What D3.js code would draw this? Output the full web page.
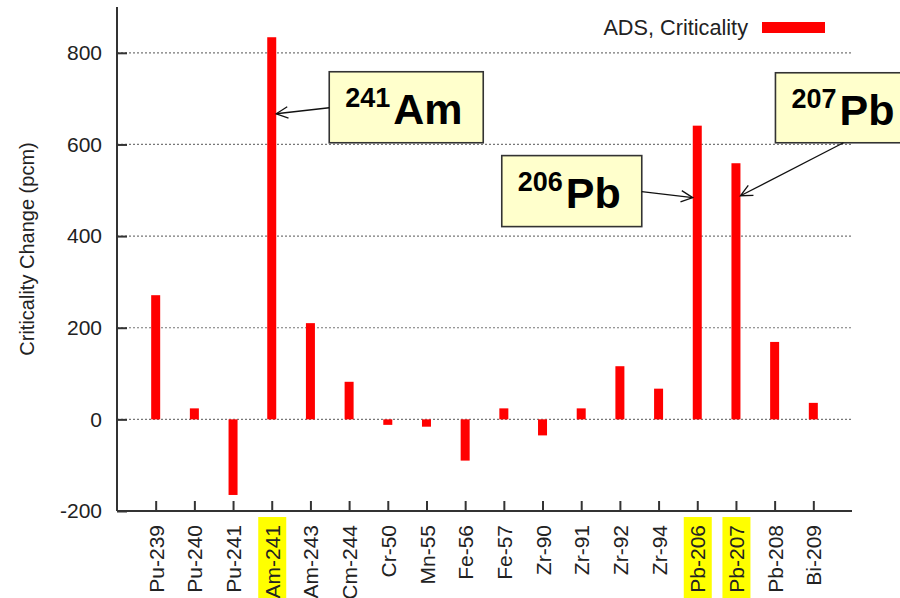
<!DOCTYPE html>
<html>
<head>
<meta charset="utf-8">
<script src="https://cdn.jsdelivr.net/npm/d3@7"></script>
<style>
  html, body { margin: 0; padding: 0; background: #fff; }
  svg { display: block; font-family: "Liberation Sans", Arial, sans-serif; }
</style>
</head>
<body>
<svg id="chart" width="900" height="598"></svg>
<script>
// ---- data ----
const categories = ["Pu-239","Pu-240","Pu-241","Am-241","Am-243","Cm-244","Cr-50","Mn-55","Fe-56","Fe-57","Zr-90","Zr-91","Zr-92","Zr-94","Pb-206","Pb-207","Pb-208","Bi-209"];
const values = [271, 24, -165, 834, 210, 82, -12, -16, -90, 24, -35, 24, 116, 67, 641, 559, 169, 36];
const yTicks = [-200, 0, 200, 400, 600, 800];
const gridTicks = [0, 200, 400, 600, 800];
const highlighted = ["Am-241", "Pb-206", "Pb-207"];
const seriesName = "ADS, Criticality";
const yTitle = "Criticality Change (pcm)";
const annCats = ["Am-241", "Pb-206", "Pb-207"];
const annMass = ["241", "206", "207"];
const annElem = ["Am", "Pb", "Pb"];
const annValues = [667, 484, 488];

// ---- layout ----
(function () {
const svg = d3.select("#chart");
const mLeft = 117, mRight = 852, mTop = 7, mBottom = 511;
const x = d3.scalePoint().domain(categories).range([mLeft, mRight]).padding(1);
const y = d3.scaleLinear().domain([-200, 900]).range([mBottom, mTop]);
const barW = 9;
const axisColor = "#333";
const textColor = "#222";

// grid
svg.append("g").selectAll("line").data(gridTicks).join("line")
  .attr("x1", mLeft).attr("x2", mRight)
  .attr("y1", d => y(d)).attr("y2", d => y(d))
  .attr("stroke", "#777").attr("stroke-width", 1.2)
  .attr("stroke-dasharray", "2,2");

// bars
svg.append("g").selectAll("rect").data(values).join("rect")
  .attr("x", (d, i) => x(categories[i]) - barW / 2)
  .attr("width", barW)
  .attr("y", d => y(Math.max(0, d)))
  .attr("height", d => Math.abs(y(d) - y(0)))
  .attr("fill", "#ff0000");

// y axis
const yAxis = svg.append("g").attr("transform", `translate(${mLeft},0)`)
  .call(d3.axisLeft(y).tickValues(yTicks).tickFormat(d => String(d))
    .tickSize(-10).tickPadding(15).tickSizeOuter(0));
yAxis.select(".domain").attr("stroke", axisColor).attr("stroke-width", 2)
  .attr("d", `M0,${mBottom}V${mTop}`);
yAxis.selectAll(".tick line").attr("stroke", axisColor).attr("stroke-width", 2);
yAxis.selectAll(".tick text").attr("font-size", 21).attr("fill", textColor)
  .attr("font-family", "Liberation Sans, Arial, sans-serif");

// x axis
const xAxis = svg.append("g").attr("transform", `translate(0,${mBottom})`)
  .call(d3.axisBottom(x).tickSize(-10).tickSizeOuter(0));
xAxis.select(".domain").attr("stroke", axisColor).attr("stroke-width", 2)
  .attr("d", `M${mLeft},0H${mRight}`);
xAxis.selectAll(".tick line").attr("stroke", axisColor).attr("stroke-width", 2);
xAxis.selectAll(".tick").each(function(d) {
  if (highlighted.includes(d)) {
    d3.select(this).insert("rect", "text")
      .attr("x", -14).attr("width", 28)
      .attr("y", 6).attr("height", 100)
      .attr("fill", "#ffff00");
  }
});
xAxis.selectAll(".tick text")
  .attr("font-size", 21).attr("fill", textColor)
  .attr("font-family", "Liberation Sans, Arial, sans-serif")
  .attr("transform", "rotate(-90)")
  .attr("text-anchor", "end")
  .attr("x", -14).attr("y", 0).attr("dy", "0.36em");

// y title
svg.append("text")
  .attr("transform", `translate(34,249) rotate(-90)`)
  .attr("text-anchor", "middle")
  .attr("font-size", 20).attr("fill", textColor)
  .text(yTitle);

// legend
svg.append("text").attr("x", 748).attr("y", 35).attr("text-anchor", "end")
  .attr("font-size", 21.7).attr("fill", textColor).text(seriesName);
svg.append("rect").attr("x", 762).attr("y", 22).attr("width", 63).attr("height", 11)
  .attr("fill", "#ff0000");

// annotations: box offsets relative to arrow tip (layout only)
const boxLayout = [
  {tipSide: 1,  dx: 53,   dy: -42,  w: 154, h: 71, from: [0, 36]},
  {tipSide: -1, dx: -191, dy: -42,  w: 140, h: 71, from: [140, 36]},
  {tipSide: 1,  dx: 35,   dy: -123, w: 140, h: 70, from: [68, 70]}
];
const annG = svg.append("g");
annCats.forEach((c, i) => {
  const L = boxLayout[i];
  const tx = x(c) + L.tipSide * barW / 2;
  const ty = y(annValues[i]);
  const bx = tx + L.dx, by = ty + L.dy;
  annG.append("rect").attr("x", bx).attr("y", by).attr("width", L.w).attr("height", L.h)
    .attr("fill", "#ffffcc").attr("stroke", "#333").attr("stroke-width", 1.6);
  const t = annG.append("text").attr("x", bx + 16).attr("y", by + 52)
    .attr("font-weight", "bold").attr("fill", "#000");
  t.append("tspan").attr("font-size", 27).attr("dy", -17).text(annMass[i]);
  t.append("tspan").attr("font-size", 43).attr("dy", 17).attr("dx", 3).text(annElem[i]);
  // arrow
  const fx = bx + L.from[0], fy = by + L.from[1];
  annG.append("line").attr("x1", fx).attr("y1", fy).attr("x2", tx).attr("y2", ty)
    .attr("stroke", "#111").attr("stroke-width", 1.3);
  const ang = Math.atan2(ty - fy, tx - fx);
  const hl = 13, ha = 0.45;
  const p1 = [tx - hl * Math.cos(ang - ha), ty - hl * Math.sin(ang - ha)];
  const p2 = [tx - hl * Math.cos(ang + ha), ty - hl * Math.sin(ang + ha)];
  annG.append("path").attr("d", `M${p1[0]},${p1[1]}L${tx},${ty}L${p2[0]},${p2[1]}`)
    .attr("fill", "none").attr("stroke", "#111").attr("stroke-width", 1.3);
});
})();
</script>
</body>
</html>
